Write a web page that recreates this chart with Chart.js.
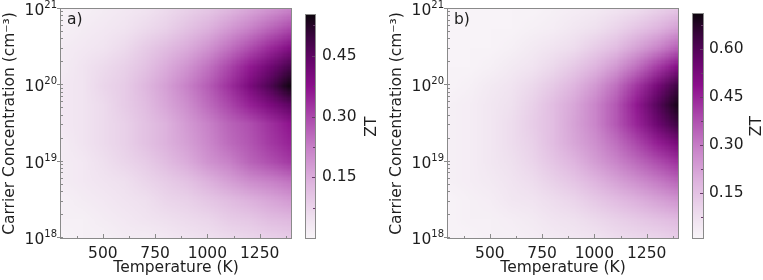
<!DOCTYPE html>
<html><head><meta charset="utf-8">
<script src="https://cdn.jsdelivr.net/npm/chart.js@4.4.0/dist/chart.umd.min.js"></script>
<style>
html,body{margin:0;padding:0;background:#fff;}
#wrap{position:relative;width:763px;height:280px;overflow:hidden;background:#fff;}
canvas{position:absolute;top:0;}
</style></head><body>
<div id="wrap">
<canvas id="hmA" width="300" height="280" style="left:0px"></canvas>
<canvas id="cbA" width="80" height="280" style="left:300px"></canvas>
<canvas id="hmB" width="305" height="280" style="left:380px"></canvas>
<canvas id="cbB" width="78" height="280" style="left:685px"></canvas>
</div>
<script>
// ---- data ----
const temperatures = [300,400,500,600,700,800,900,1000,1100,1200,1300,1400];
const logConcentrations = [18,18.25,18.5,18.75,19,19.25,19.5,19.75,20,20.25,20.5,20.75,21];
// rows: log10(n) from 18 (first) to 21 (last); columns: temperatures
const ztA = [
 [0.00,0.01,0.01,0.02,0.02,0.03,0.04,0.05,0.06,0.07,0.08,0.09],
 [0.01,0.01,0.02,0.03,0.04,0.05,0.06,0.07,0.09,0.10,0.12,0.13],
 [0.01,0.02,0.03,0.04,0.05,0.07,0.08,0.10,0.12,0.14,0.16,0.18],
 [0.02,0.03,0.04,0.05,0.07,0.09,0.11,0.14,0.17,0.20,0.22,0.24],
 [0.02,0.03,0.05,0.07,0.09,0.12,0.15,0.19,0.22,0.26,0.29,0.32],
 [0.02,0.04,0.06,0.08,0.11,0.14,0.17,0.21,0.25,0.28,0.32,0.35],
 [0.03,0.04,0.06,0.08,0.11,0.14,0.18,0.22,0.26,0.29,0.33,0.37],
 [0.03,0.04,0.06,0.09,0.12,0.16,0.20,0.25,0.30,0.35,0.40,0.45],
 [0.03,0.04,0.07,0.09,0.13,0.17,0.22,0.27,0.33,0.40,0.47,0.55],
 [0.02,0.04,0.06,0.08,0.11,0.15,0.19,0.24,0.30,0.36,0.42,0.48],
 [0.02,0.03,0.04,0.06,0.09,0.12,0.15,0.19,0.24,0.29,0.34,0.39],
 [0.01,0.02,0.03,0.04,0.06,0.08,0.11,0.14,0.18,0.22,0.26,0.30],
 [0.00,0.01,0.02,0.03,0.04,0.06,0.08,0.10,0.13,0.16,0.19,0.22]
];
const ztB = [
 [0.01,0.01,0.02,0.02,0.03,0.04,0.05,0.06,0.08,0.09,0.10,0.12],
 [0.01,0.02,0.02,0.03,0.04,0.06,0.07,0.09,0.11,0.13,0.15,0.17],
 [0.01,0.02,0.03,0.05,0.06,0.08,0.10,0.13,0.16,0.19,0.22,0.25],
 [0.02,0.03,0.04,0.06,0.08,0.11,0.14,0.18,0.22,0.26,0.30,0.34],
 [0.02,0.03,0.05,0.07,0.10,0.14,0.18,0.23,0.28,0.33,0.38,0.43],
 [0.02,0.03,0.05,0.08,0.11,0.16,0.21,0.26,0.32,0.39,0.46,0.53],
 [0.02,0.03,0.05,0.08,0.12,0.16,0.22,0.28,0.36,0.45,0.55,0.64],
 [0.02,0.03,0.05,0.07,0.11,0.16,0.21,0.28,0.36,0.47,0.59,0.70],
 [0.01,0.02,0.04,0.06,0.09,0.13,0.18,0.24,0.32,0.42,0.53,0.64],
 [0.01,0.01,0.02,0.04,0.06,0.09,0.13,0.18,0.24,0.32,0.41,0.50],
 [0.00,0.01,0.01,0.02,0.04,0.06,0.08,0.12,0.16,0.22,0.28,0.35],
 [0.00,0.00,0.01,0.01,0.02,0.03,0.05,0.07,0.10,0.14,0.18,0.23],
 [0.00,0.00,0.00,0.01,0.01,0.02,0.03,0.04,0.06,0.08,0.11,0.14]
];
const xTicks = [500,750,1000,1250];
const xMinorTicks = [375,625,875,1125,1375];
const yTickExponents = [18,19,20,21];
const cbarTicksA = [0.15,0.30,0.45];
const cbarMinorA = [0.075,0.225,0.375,0.525];
const cbarTicksB = [0.15,0.30,0.45,0.60];
const cbarMinorB = [0.075,0.225,0.375,0.525,0.675];
const cbarRangeA = [0,0.55];
const cbarRangeB = [0.008,0.71];

// ---- style ----
const FAM = "'DejaVu Sans', sans-serif";
const WT = 'normal';
const TXT = '#1e1e1e';
const FRAME = '#8a8a8a';
const FS = 15.5;
const stops = [
 [0.00,[248,244,248]],
 [0.10,[238,222,238]],
 [0.25,[222,180,222]],
 [0.40,[200,130,200]],
 [0.55,[170,70,170]],
 [0.68,[140,15,140]],
 [0.80,[100,5,105]],
 [0.90,[60,5,65]],
 [1.00,[15,5,15]]
];
function cmap(t){
  t=Math.max(0,Math.min(1,t));
  for(let k=1;k<stops.length;k++){
    if(t<=stops[k][0]){
      const [t0,c0]=stops[k-1],[t1,c1]=stops[k];
      const f=(t-t0)/(t1-t0);
      return c0.map((c,i)=>Math.round(c+(c1[i]-c)*f));
    }
  }
  return stops[stops.length-1][1];
}
function fontStr(sz){return WT+' '+sz+'px '+FAM;}

function makeHeat(id, zt, range, panelLabel, yWidth, padRight, titlePad){
  const data=[];
  logConcentrations.forEach((e,j)=>temperatures.forEach((T,i)=>data.push({x:T,y:Math.pow(10,e),v:zt[j][i]})));
  const plugin={
    id:'heat_'+id,
    beforeDatasetsDraw(chart){
      const {ctx, chartArea:a, scales:{x,y}}=chart;
      const nT=temperatures.length,nN=logConcentrations.length;
      const off=document.createElement('canvas'); off.width=nT; off.height=nN;
      const octx=off.getContext('2d'); const img=octx.createImageData(nT,nN);
      const pts=chart.data.datasets[0].data;
      pts.forEach((p,k)=>{
        const i=k%nT, j=Math.floor(k/nT);
        const c=cmap((p.v-range[0])/(range[1]-range[0]));
        const o=((nN-1-j)*nT+i)*4;
        img.data[o]=c[0];img.data[o+1]=c[1];img.data[o+2]=c[2];img.data[o+3]=255;
      });
      octx.putImageData(img,0,0);
      const dT=temperatures[1]-temperatures[0], dE=logConcentrations[1]-logConcentrations[0];
      const x0=x.getPixelForValue(temperatures[0]-dT/2), x1=x.getPixelForValue(temperatures[nT-1]+dT/2);
      const yT=y.getPixelForValue(Math.pow(10,logConcentrations[nN-1]+dE/2)), yB=y.getPixelForValue(Math.pow(10,logConcentrations[0]-dE/2));
      ctx.save();
      ctx.beginPath(); ctx.rect(a.left,a.top,a.right-a.left,a.bottom-a.top); ctx.clip();
      ctx.imageSmoothingEnabled=true; ctx.imageSmoothingQuality='low';
      ctx.drawImage(off,x0,yT,x1-x0,yB-yT);
      ctx.restore();
    },
    afterDraw(chart){
      const {ctx, chartArea:a, scales:{x,y}}=chart;
      ctx.save();
      ctx.strokeStyle=FRAME; ctx.lineWidth=1;
      ctx.strokeRect(Math.round(a.left)-0.5,Math.round(a.top)-0.5,Math.round(a.right-a.left)+1,Math.round(a.bottom-a.top)+1);
      ctx.beginPath();
      xTicks.forEach(v=>{const p=Math.round(x.getPixelForValue(v))+0.5; ctx.moveTo(p,a.bottom); ctx.lineTo(p,a.bottom-4);});
      xMinorTicks.forEach(v=>{const p=Math.round(x.getPixelForValue(v))+0.5; ctx.moveTo(p,a.bottom); ctx.lineTo(p,a.bottom-2);});
      yTickExponents.forEach(e=>{const p=Math.round(y.getPixelForValue(Math.pow(10,e)))-0.5; ctx.moveTo(a.left-4,p); ctx.lineTo(a.left+2,p);});
      for(let e=yTickExponents[0];e<yTickExponents[yTickExponents.length-1];e++){
        for(let m=2;m<=9;m++){const p=Math.round(y.getPixelForValue(m*Math.pow(10,e)))-0.5; ctx.moveTo(a.left,p); ctx.lineTo(a.left+2,p);}
      }
      ctx.stroke();
      // y tick labels 10^e
      ctx.fillStyle=TXT; ctx.textAlign='right'; ctx.textBaseline='middle';
      yTickExponents.forEach(e=>{
        const p=y.getPixelForValue(Math.pow(10,e));
        ctx.font=fontStr(10);
        const s=String(e); const w=ctx.measureText(s).width;
        const xr=a.left-4;
        ctx.fillText(s,xr,p-3.5);
        ctx.font=fontStr(FS);
        ctx.fillText('10',xr-w,p+2);
      });
      // panel label
      ctx.textAlign='left'; ctx.textBaseline='alphabetic';
      ctx.font=fontStr(FS);
      ctx.fillText(panelLabel,a.left+6,a.top+15);
      ctx.restore();
    }
  };
  return new Chart(document.getElementById(id),{
    type:'scatter',
    data:{datasets:[{data, pointRadius:0, pointHoverRadius:0}]},
    options:{
      responsive:false, animation:false, events:[],
      layout:{padding:{top:9,right:padRight,left:0,bottom:0}},
      plugins:{legend:{display:false},tooltip:{enabled:false}},
      scales:{
        x:{type:'linear',min:300,max:1400,position:'bottom',
          afterBuildTicks:s=>{s.ticks=xTicks.map(v=>({value:v}));},
          afterFit:s=>{s.height=42;},
          grid:{display:false,drawTicks:false}, border:{display:false},
          ticks:{padding:7,autoSkip:false,maxRotation:0,color:TXT,font:{family:FAM,size:FS,weight:WT},callback:v=>String(v)},
          title:{display:true,text:'Temperature (K)',color:TXT,font:{family:FAM,size:FS,weight:WT},padding:{top:0,bottom:3}}},
        y:{type:'logarithmic',min:1e18,max:1e21,position:'left',
          afterBuildTicks:s=>{s.ticks=yTickExponents.map(e=>({value:Math.pow(10,e)}));},
          afterFit:s=>{s.width=yWidth;},
          grid:{display:false,drawTicks:false}, border:{display:false},
          ticks:{display:false},
          title:{display:true,text:'Carrier Concentration (cm⁻³)',color:TXT,font:{family:FAM,size:FS,weight:WT},padding:{top:titlePad,bottom:0}}}
      }
    },
    plugins:[plugin]
  });
}

function makeBar(id, range, ticks, minor, padLeft, barW, labelPad, ztOffset){
  const W=document.getElementById(id).width;
  const plugin={
    id:'cbar_'+id,
    beforeDatasetsDraw(chart){
      const {ctx, chartArea:a, scales:{y}}=chart;
      ctx.save();
      for(let py=Math.round(a.top);py<Math.round(a.bottom);py++){
        const v=y.getValueForPixel(py+0.5);
        const c=cmap((v-range[0])/(range[1]-range[0]));
        ctx.fillStyle='rgb('+c.join(',')+')';
        ctx.fillRect(a.left,py,a.right-a.left,1);
      }
      ctx.strokeStyle=FRAME; ctx.lineWidth=1;
      ctx.strokeRect(Math.round(a.left)+0.5,Math.round(a.top)-0.5,Math.round(a.right-a.left)-1,Math.round(a.bottom-a.top)+1);
      ctx.strokeStyle='#6a3a6a';
      ctx.beginPath();
      ticks.forEach(v=>{const p=Math.round(y.getPixelForValue(v))+0.5; ctx.moveTo(a.right-1,p); ctx.lineTo(a.right-4,p);});
      minor.forEach(v=>{const p=Math.round(y.getPixelForValue(v))+0.5; ctx.moveTo(a.right-1,p); ctx.lineTo(a.right-3,p);});
      ctx.stroke();
      // ZT title (reads bottom to top)
      ctx.fillStyle=TXT; ctx.font=fontStr(FS); ctx.textAlign='center'; ctx.textBaseline='middle';
      ctx.translate(a.right+ztOffset,(a.top+a.bottom)/2); ctx.rotate(-Math.PI/2);
      ctx.fillText('ZT',0,0);
      ctx.restore();
    }
  };
  return new Chart(document.getElementById(id),{
    type:'scatter',
    data:{datasets:[{data:[],pointRadius:0}]},
    options:{
      responsive:false, animation:false, events:[],
      layout:{padding:{top:9,bottom:42,left:padLeft,right:0}},
      plugins:{legend:{display:false},tooltip:{enabled:false}},
      scales:{
        x:{display:false},
        y:{type:'linear',position:'right',min:range[0],max:range[1],
          afterBuildTicks:s=>{s.ticks=ticks.map(v=>({value:v}));},
          afterFit:s=>{s.width=W-padLeft-barW;},
          grid:{display:false,drawTicks:false}, border:{display:false},
          ticks:{padding:labelPad,color:TXT,font:{family:FAM,size:FS,weight:WT},callback:v=>v.toFixed(2)}}
      }
    },
    plugins:[plugin]
  });
}

makeHeat('hmA', ztA, cbarRangeA, 'a)', 61, 9, 1);
makeBar('cbA', cbarRangeA, cbarTicksA, cbarMinorA, 5, 11, 6, 56);
makeHeat('hmB', ztB, cbarRangeB, 'b)', 68, 7, 8);
makeBar('cbB', cbarRangeB, cbarTicksB, cbarMinorB, 7, 12, 5, 53);
</script>
</body></html>
